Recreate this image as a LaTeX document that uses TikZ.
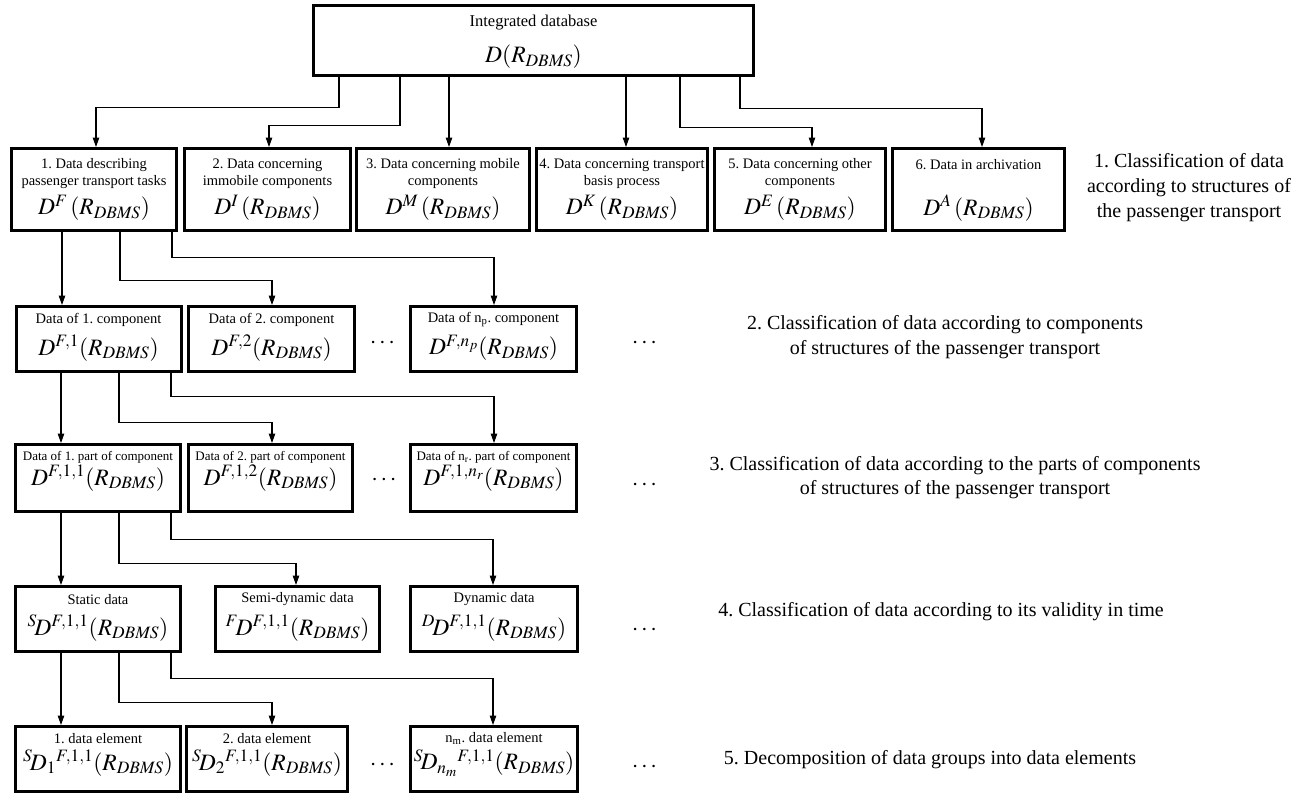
\documentclass[tikz,border=0pt]{standalone}
\usepackage{mathptmx}
\usepackage{fontspec}
\setmainfont{Liberation Serif}
\usetikzlibrary{arrows.meta}
\frenchspacing

% relation argument used in every formula
\newcommand{\dbmsarg}{(R_{\mathit{DBMS}})}

\begin{document}
\begin{tikzpicture}[x=1pt,y=-1pt,
  dbox/.style={draw, line width=3pt, inner sep=0pt, minimum height=65pt},
  ttl/.style={inner sep=0pt, align=center, font=\fontsize{14.5}{17}\selectfont},
  smallttl/.style={inner sep=0pt, align=center, font=\fontsize{13}{15}\selectfont},
  frm/.style={inner sep=0pt, font=\fontsize{23.5}{26}\selectfont},
  lbl/.style={inner sep=0pt, align=center, font=\fontsize{20}{25}\selectfont},
  dots/.style={inner sep=0pt, font=\fontsize{24}{26}\selectfont},
  conn/.style={line width=1.1pt, -{Triangle[length=9.5pt,width=6.5pt]}}]
\useasboundingbox (0,0) rectangle (1300,795);

% ---------- integrated database ----------
\node[dbox, minimum width=440pt, minimum height=70pt] (db) at (533.5,40.5) {};
\node[ttl, font=\fontsize{16.5}{19}\selectfont] (dbt) at ([yshift=-18.5pt]db.north) {Integrated database};
\node[frm] (dbf) at ([yshift=-53pt]db.north) {$D\dbmsarg$};

% ---------- level 1: structures of the passenger transport ----------
\node[dbox, minimum width=165pt, minimum height=82pt] (s1) at (94,189.5) {};
\node[dbox, minimum width=166pt, minimum height=82pt] (s2) at (267.5,189.5) {};
\node[dbox, minimum width=173pt, minimum height=82pt] (s3) at (443,189.5) {};
\node[dbox, minimum width=171pt, minimum height=82pt] (s4) at (622,189.5) {};
\node[dbox, minimum width=171pt, minimum height=82pt] (s5) at (800,189.5) {};
\node[dbox, minimum width=172pt, minimum height=82pt] (s6) at (978.5,189.5) {};

\node[ttl] (s1t) at ([yshift=-26.5pt]s1.north) {1. Data describing\\passenger transport tasks};
\node[ttl] (s2t) at ([yshift=-26.5pt]s2.north) {2. Data concerning\\immobile components};
\node[ttl] (s3t) at ([yshift=-26.5pt]s3.north) {3. Data concerning mobile\\components};
\node[ttl] (s4t) at ([yshift=-26.5pt]s4.north) {4. Data concerning transport\\basis process};
\node[ttl] (s5t) at ([yshift=-26.5pt]s5.north) {5. Data concerning other\\components};
\node[ttl] (s6t) at ([yshift=-17.5pt]s6.north) {6. Data in archivation};

\node[frm] (s1f) at ([yshift=-61pt]s1.north) {$D^{F}\,\dbmsarg$};
\node[frm] (s2f) at ([yshift=-61pt]s2.north) {$D^{I}\,\dbmsarg$};
\node[frm] (s3f) at ([yshift=-61pt]s3.north) {$D^{M}\,\dbmsarg$};
\node[frm] (s4f) at ([yshift=-61pt]s4.north) {$D^{K}\,\dbmsarg$};
\node[frm] (s5f) at ([yshift=-61pt]s5.north) {$D^{E}\,\dbmsarg$};
\node[frm] (s6f) at ([yshift=-61pt]s6.north) {$D^{A}\,\dbmsarg$};

\node[lbl] (lab1) at (1189,188) {1. Classification of data\\according to structures of\\the passenger transport};

% ---------- level 2: components ----------
\node[dbox, minimum width=165pt] (c1) at (98.5,339) {};
\node[dbox, minimum width=166pt] (c2) at (271.5,339) {};
\node[dbox, minimum width=166pt] (c3) at (493.5,339) {};
\node[ttl] (c1t) at ([yshift=-14.5pt]c1.north) {Data of 1. component};
\node[ttl] (c2t) at ([yshift=-14.5pt]c2.north) {Data of 2. component};
\node[ttl] (c3t) at ([yshift=-14.5pt]c3.north) {Data of n\textsubscript{p}. component};
\node[frm] (c1f) at ([yshift=-43pt]c1.north) {$D^{F,1}\dbmsarg$};
\node[frm] (c2f) at ([yshift=-43pt]c2.north) {$D^{F,2}\dbmsarg$};
\node[frm] (c3f) at ([yshift=-43pt]c3.north) {$D^{F,n_p}\dbmsarg$};
\node[dots] (c23d) at (382.5,343) {$\cdots$};
\node[dots] (cxd) at (644.5,343) {$\cdots$};
\node[lbl] (lab2) at (945,337.5) {2. Classification of data according to components\\of structures of the passenger transport};

% ---------- level 3: parts of components ----------
\node[dbox, minimum width=164.5pt, minimum height=67pt] (p1) at (98,478) {};
\node[dbox, minimum width=164pt, minimum height=67pt] (p2) at (270.5,478) {};
\node[dbox, minimum width=166pt, minimum height=67pt] (p3) at (493.5,478) {};
\node[smallttl] (p1t) at ([yshift=-14pt]p1.north) {Data of 1. part of component};
\node[smallttl] (p2t) at ([yshift=-14pt]p2.north) {Data of 2. part of component};
\node[smallttl] (p3t) at ([yshift=-14pt]p3.north) {Data of n\textsubscript{r}. part of component};
\node[frm] (p1f) at ([yshift=-35pt]p1.north) {$D^{F,1,1}\dbmsarg$};
\node[frm] (p2f) at ([yshift=-35pt]p2.north) {$D^{F,1,2}\dbmsarg$};
\node[frm] (p3f) at ([yshift=-35pt]p3.north) {$D^{F,1,n_r}\dbmsarg$};
\node[dots] (p23d) at (384,480) {$\cdots$};
\node[dots] (pxd) at (644.5,485) {$\cdots$};
\node[lbl, font=\fontsize{20}{24}\selectfont] (lab3) at (955,478) {3. Classification of data according to the parts of components\\of structures of the passenger transport};

% ---------- level 4: validity in time ----------
\node[dbox, minimum width=164.5pt] (v1) at (98,619) {};
\node[dbox, minimum width=164pt] (v2) at (297.5,619) {};
\node[dbox, minimum width=167pt] (v3) at (494,619) {};
\node[ttl] (v1t) at ([yshift=-14.5pt]v1.north) {Static data};
\node[ttl] (v2t) at ([yshift=-14.5pt]v2.north) {Semi-dynamic data};
\node[ttl] (v3t) at ([yshift=-14.5pt]v3.north) {Dynamic data};
\node[frm] (v1f) at ([yshift=-43pt]v1.north) {${}^{S}\!D^{F,1,1}\dbmsarg$};
\node[frm] (v2f) at ([yshift=-43pt]v2.north) {${}^{F}\!D^{F,1,1}\dbmsarg$};
\node[frm] (v3f) at ([yshift=-43pt]v3.north) {${}^{D}\!D^{F,1,1}\dbmsarg$};
\node[dots] (vxd) at (644.5,630) {$\cdots$};
\node[lbl] (lab4) at (941,612) {4. Classification of data according to its validity in time};

% ---------- level 5: data elements ----------
\node[dbox, minimum width=164.5pt] (e1) at (98,759) {};
\node[dbox, minimum width=161pt] (e2) at (267,759) {};
\node[dbox, minimum width=167pt] (e3) at (494,759) {};
\node[ttl] (e1t) at ([yshift=-13.5pt]e1.north) {1. data element};
\node[ttl] (e2t) at ([yshift=-13.5pt]e2.north) {2. data element};
\node[ttl] (e3t) at ([yshift=-13.5pt]e3.north) {n\textsubscript{m}. data element};
\node[frm] (e1f) at ([yshift=-38pt]e1.north) {${}^{S}\!D_{1}{}^{F,1,1}\dbmsarg$};
\node[frm] (e2f) at ([yshift=-38pt]e2.north) {${}^{S}\!D_{2}{}^{F,1,1}\dbmsarg$};
\node[frm] (e3f) at ([yshift=-38pt]e3.north) {${}^{S}\!D_{n_m}{}^{F,1,1}\dbmsarg$};
\node[dots] (e23d) at (382.5,765) {$\cdots$};
\node[dots] (exd) at (644.5,767) {$\cdots$};
\node[lbl] (lab5) at (930,760) {5. Decomposition of data groups into data elements};

% ---------- connectors ----------
% database -> level 1
\coordinate (s3in) at ([xshift=6pt]s3.north);
\coordinate (s4in) at ([xshift=4pt]s4.north);
\draw[conn] ([xshift=-194.5pt]db.south) -- ++(0,30.5) -| ([xshift=2pt]s1.north);
\draw[conn] ([xshift=-133.5pt]db.south) -- ++(0,48.5) -| ([xshift=1.5pt]s2.north);
\draw[conn] (s3in |- db.south) -- (s3in);
\draw[conn] (s4in |- db.south) -- (s4in);
\draw[conn] ([xshift=146.5pt]db.south) -- ++(0,50.5) -| ([xshift=12pt]s5.north);
\draw[conn] ([xshift=206.5pt]db.south) -- ++(0,31.5) -| ([xshift=3.5pt]s6.north);

% level 1 -> level 2
\coordinate (c1in) at ([xshift=-36.5pt]c1.north);
\draw[conn] (c1in |- s1.south) -- (c1in);
\draw[conn] ([xshift=26pt]s1.south) -- ++(0,48.5) -| ([xshift=0.5pt]c2.north);
\draw[conn] ([xshift=78pt]s1.south) -- ++(0,25.5) -| ([xshift=0.5pt]c3.north);

% level 2 -> level 3
\coordinate (p1in) at ([xshift=-37pt]p1.north);
\draw[conn] (p1in |- c1.south) -- (p1in);
\draw[conn] ([xshift=20.5pt]c1.south) -- ++(0,49.5) -| ([xshift=1.5pt]p2.north);
\draw[conn] ([xshift=72.5pt]c1.south) -- ++(0,23.5) -| ([xshift=0.5pt]p3.north);

% level 3 -> level 4
\coordinate (v1in) at ([xshift=-37pt]v1.north);
\draw[conn] (v1in |- p1.south) -- (v1in);
\draw[conn] ([xshift=21pt]p1.south) -- ++(0,50.5) -| ([xshift=-1.5pt]v2.north);
\draw[conn] ([xshift=73pt]p1.south) -- ++(0,26.5) -| ([xshift=-1pt]v3.north);

% level 4 -> level 5
\coordinate (e1in) at ([xshift=-37pt]e1.north);
\draw[conn] (e1in |- v1.south) -- (e1in);
\draw[conn] ([xshift=21pt]v1.south) -- ++(0,49.5) -| ([xshift=5pt]e2.north);
\draw[conn] ([xshift=73pt]v1.south) -- ++(0,25.5) -| ([xshift=-1pt]e3.north);
\end{tikzpicture}
\end{document}
